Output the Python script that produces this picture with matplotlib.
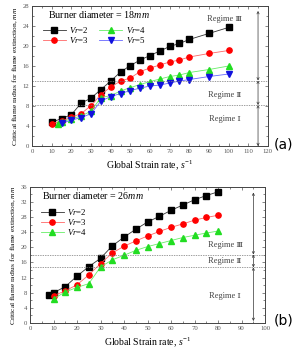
import numpy as np
import matplotlib
matplotlib.use("Agg")
import matplotlib.pyplot as plt
from matplotlib.ticker import MultipleLocator

plt.rcParams['font.family'] = ['Liberation Serif', 'DejaVu Serif']
plt.rcParams['mathtext.fontset'] = 'custom'
plt.rcParams['mathtext.rm'] = 'Liberation Serif'
plt.rcParams['mathtext.it'] = 'Liberation Serif:italic'

# (a) burner diameter 18 mm
a_x2 = [10, 15, 20, 25, 30, 35, 40, 45, 50, 55, 60, 65, 70, 75, 80, 90, 100]
a_y2 = [4.8, 5.5, 6.3, 8.6, 9.6, 11.3, 13.0, 14.8, 16.1, 17.2, 18.1, 19.0, 19.9, 20.5, 21.3, 22.5, 23.7]
a_x3 = [10, 15, 20, 25, 30, 35, 40, 45, 50, 55, 60, 65, 70, 75, 80, 90, 100]
a_y3 = [4.5, 5.0, 5.8, 6.5, 8.1, 10.3, 11.8, 13.0, 13.6, 14.9, 15.6, 16.2, 16.8, 17.2, 17.8, 18.5, 19.1]
a_x4 = [13, 15, 20, 25, 30, 35, 40, 45, 50, 55, 60, 65, 70, 75, 80, 90, 100]
a_y4 = [4.5, 4.8, 5.5, 6.0, 7.0, 9.7, 10.1, 11.0, 11.7, 12.3, 12.9, 13.4, 13.9, 14.2, 14.7, 15.3, 16.0]
a_x5 = [15, 20, 25, 30, 35, 40, 45, 50, 55, 60, 65, 70, 75, 80, 90, 100]
a_y5 = [4.6, 5.2, 5.7, 6.5, 9.0, 9.9, 10.5, 11.1, 11.6, 12.0, 12.2, 12.6, 13.0, 13.3, 13.9, 14.4]
a_bounds = [8.2, 13.1]

# (b) burner diameter 26 mm
b_x2 = [8, 10, 15, 20, 25, 30, 35, 40, 45, 50, 55, 60, 65, 70, 75, 80]
b_y2 = [7.5, 8.0, 9.6, 12.4, 14.9, 17.1, 20.4, 22.7, 24.8, 26.7, 28.2, 29.8, 31.2, 32.6, 33.7, 34.7]
b_x3 = [10, 15, 20, 25, 30, 35, 40, 45, 50, 55, 60, 65, 70, 75, 80]
b_y3 = [7.2, 8.5, 10.1, 12.7, 15.7, 18.5, 20.3, 21.7, 23.0, 24.2, 25.3, 26.2, 27.2, 27.9, 28.5]
b_x4 = [10, 15, 20, 25, 30, 35, 40, 45, 50, 55, 60, 65, 70, 75, 80]
b_y4 = [6.4, 8.2, 9.4, 10.4, 14.8, 16.7, 17.9, 19.2, 20.2, 21.0, 21.8, 22.6, 23.2, 23.8, 24.3]
b_bounds = [14.7, 18.1]

fig = plt.figure(figsize=(3.03, 3.48), dpi=100)
ax1 = fig.add_axes([0.106, 0.58, 0.778, 0.403])
ax2 = fig.add_axes([0.099, 0.072, 0.776, 0.391])

def style(ax, xmax, xstep, ymax):
    ax.set_xlim(0, xmax)
    ax.set_ylim(0, ymax)
    ax.xaxis.set_major_locator(MultipleLocator(xstep))
    ax.xaxis.set_minor_locator(MultipleLocator(xstep / 2))
    ax.yaxis.set_major_locator(MultipleLocator(4))
    ax.yaxis.set_minor_locator(MultipleLocator(2))
    ax.tick_params(which='both', direction='in', top=True, right=True,
                   labelsize=4.8, colors='#555555', labelcolor='#555555', width=0.5)
    ax.tick_params(which='major', length=2.5, pad=2)
    ax.tick_params(which='minor', length=1.5)
    for s in ax.spines.values():
        s.set_linewidth(0.7)
        s.set_color('#444444')
    ax.set_xlabel('Global Strain rate, $s^{-1}$', fontsize=7, labelpad=3)
    ax.set_ylabel('Critical flame radius for flame extinction, $mm$', fontsize=5.4, labelpad=2)

ms = 3.8
ax1.plot(a_x2, a_y2, '-s', color='#333333', mfc='black', mec='black', ms=ms, lw=0.6, label='$Vr$=2')
ax1.plot(a_x3, a_y3, '-o', color='#ff6666', mfc='red', mec='red', ms=ms, lw=0.6, label='$Vr$=3')
ax1.plot(a_x4, a_y4, '-^', color='#66ee66', mfc='#22dd22', mec='#22dd22', ms=ms, lw=0.6, label='$Vr$=4')
ax1.plot(a_x5, a_y5, '-v', color='#6666ff', mfc='#1111dd', mec='#1111dd', ms=ms, lw=0.6, label='$Vr$=5')
for b in a_bounds:
    ax1.axhline(b, color='#777777', ls=(0, (2, 1.5)), lw=0.5)
style(ax1, 120, 10, 28)
ax1.text(8, 26.2, 'Burner diameter = 18$mm$', fontsize=7.2, va='center')
ax1.legend(loc='upper left', bbox_to_anchor=(0.02, 0.91), ncol=2, frameon=False,
           fontsize=6.3, handlelength=2.6, columnspacing=1.2, labelspacing=0.05,
           handletextpad=0.4, borderpad=0.2)
# regime arrows
arrow = dict(arrowstyle='<->', lw=0.5, color='#333333', shrinkA=0, shrinkB=0, mutation_scale=4)
ax1.annotate('', xy=(115, 0), xytext=(115, a_bounds[0]), arrowprops=arrow)
ax1.annotate('', xy=(115, a_bounds[0]), xytext=(115, a_bounds[1]), arrowprops=arrow)
ax1.annotate('', xy=(115, a_bounds[1]), xytext=(115, 27), arrowprops=arrow)
ax1.text(98, 25.4, 'Regime Ⅲ', fontsize=6, ha='center', va='center', color='#444444')
ax1.text(98, 10.2, 'Regime Ⅱ', fontsize=6, ha='center', va='center', color='#444444')
ax1.text(98, 5.5, 'Regime Ⅰ', fontsize=6, ha='center', va='center', color='#444444')
fig.text(0.935, 0.585, '(a)', fontsize=10, ha='center', va='center', family='DejaVu Sans')

ax2.plot(b_x2, b_y2, '-s', color='#333333', mfc='black', mec='black', ms=ms, lw=0.6, label='$Vr$=2')
ax2.plot(b_x3, b_y3, '-o', color='#ff6666', mfc='red', mec='red', ms=ms, lw=0.6, label='$Vr$=3')
ax2.plot(b_x4, b_y4, '-^', color='#66ee66', mfc='#22dd22', mec='#22dd22', ms=ms, lw=0.6, label='$Vr$=4')
for b in b_bounds:
    ax2.axhline(b, color='#777777', ls=(0, (2, 1.5)), lw=0.5)
style(ax2, 100, 10, 36)
ax2.text(5, 33.6, 'Burner diameter = 26$mm$', fontsize=7.2, va='center')
ax2.legend(loc='upper left', bbox_to_anchor=(0.02, 0.9), ncol=1, frameon=False,
           fontsize=6.3, handlelength=2.6, labelspacing=0.05,
           handletextpad=0.4, borderpad=0.2)
ax2.annotate('', xy=(95, 0.5), xytext=(95, b_bounds[0]), arrowprops=arrow)
ax2.annotate('', xy=(95, b_bounds[0]), xytext=(95, b_bounds[1]), arrowprops=arrow)
ax2.annotate('', xy=(95, b_bounds[1]), xytext=(95, 34.5), arrowprops=arrow)
ax2.text(83, 20.6, 'Regime Ⅲ', fontsize=6, ha='center', va='center', color='#444444')
ax2.text(83, 16.4, 'Regime Ⅱ', fontsize=6, ha='center', va='center', color='#444444')
ax2.text(83, 7.0, 'Regime Ⅰ', fontsize=6, ha='center', va='center', color='#444444')
fig.text(0.935, 0.08, '(b)', fontsize=10, ha='center', va='center', family='DejaVu Sans')

fig.savefig('out.png', dpi=100)
